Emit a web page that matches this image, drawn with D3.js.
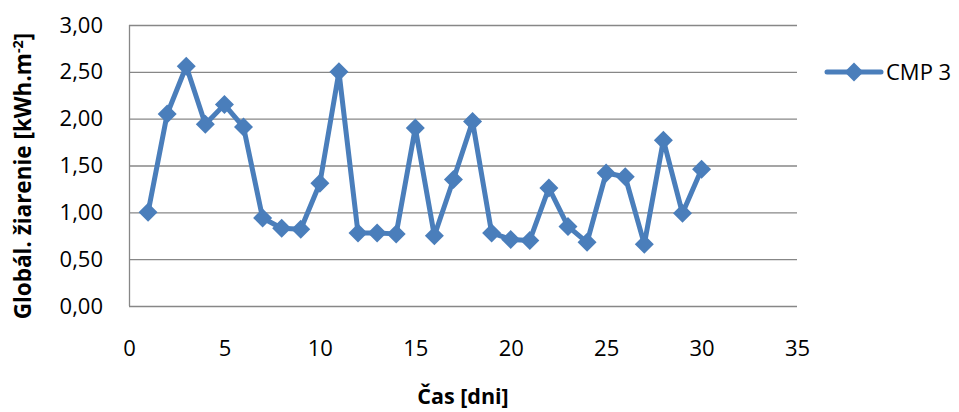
<!DOCTYPE html>
<html><head><meta charset="utf-8">
<script src="https://cdn.jsdelivr.net/npm/d3@7"></script>
<style>body{margin:0;background:#fff}svg{display:block}</style>
</head><body>
<script>
const days = [1,2,3,4,5,6,7,8,9,10,11,12,13,14,15,16,17,18,19,20,21,22,23,24,25,26,27,28,29,30];
const cmp3 = [1.00,2.05,2.56,1.94,2.15,1.91,0.94,0.83,0.82,1.31,2.50,0.78,0.78,0.77,1.90,0.75,1.35,1.97,0.78,0.71,0.70,1.26,0.85,0.68,1.42,1.38,0.66,1.77,0.99,1.46];
const xTicks = [0,5,10,15,20,25,30,35];
const yTicks = [0,0.5,1,1.5,2,2.5,3];
const seriesName = "CMP 3";
const xTitle = "Čas [dni]";

const W = 959, H = 412;
const m = {l:129, r:797, t:25, b:306};
const svg = d3.select("body").append("svg").attr("width",W).attr("height",H);
const x = d3.scaleLinear().domain([0,35]).range([m.l,m.r]);
const y = d3.scaleLinear().domain([0,3]).range([m.b,m.t]);
const font = "'Open Sans', 'Liberation Sans', Arial, sans-serif";
const blue = "#4a7ebb";

// gridlines
svg.append("g").selectAll("line").data(yTicks).join("line")
  .attr("x1",m.l).attr("x2",m.r).attr("y1",d=>y(d)+0.5).attr("y2",d=>y(d)+0.5)
  .attr("stroke","#878787").attr("stroke-width",1.3);
// left axis line
svg.append("line").attr("x1",m.l+0.5).attr("x2",m.l+0.5).attr("y1",m.t).attr("y2",m.b)
  .attr("stroke","#878787").attr("stroke-width",1.3);

// y tick labels
const yAxis = d3.axisLeft(y).tickValues(yTicks).tickSize(0).tickPadding(0)
  .tickFormat(d=>d3.format(".2f")(d).replace(".",","));
const gy = svg.append("g").attr("transform",`translate(${m.l-26},0)`).call(yAxis);
gy.select(".domain").remove();
gy.selectAll("text").attr("font-family",font).attr("font-size",22).attr("fill","#000");

// x tick labels
const xAxis = d3.axisBottom(x).tickValues(xTicks).tickSize(0).tickPadding(0);
const gx = svg.append("g").attr("transform",`translate(0,${m.b+34})`).call(xAxis);
gx.select(".domain").remove();
gx.selectAll("text").attr("font-family",font).attr("font-size",22).attr("fill","#000");

// line
const data = days.map((d,i)=>({d, v:cmp3[i]}));
svg.append("path").datum(data)
  .attr("d", d3.line().x(p=>x(p.d)).y(p=>y(p.v)))
  .attr("fill","none").attr("stroke",blue).attr("stroke-width",5).attr("stroke-linejoin","round");
const diamond = s => `M0,${-s}L${s},0L0,${s}L${-s},0Z`;
svg.append("g").selectAll("path").data(data).join("path")
  .attr("transform",p=>`translate(${x(p.d)},${y(p.v)})`)
  .attr("d",diamond(9.5)).attr("fill",blue);

// legend
const lg = svg.append("g").attr("transform","translate(827,72)");
lg.append("line").attr("x1",0).attr("x2",54).attr("y1",0).attr("y2",0)
  .attr("stroke",blue).attr("stroke-width",5).attr("stroke-linecap","round");
lg.append("path").attr("transform","translate(27,0)").attr("d",diamond(9.5)).attr("fill",blue);
lg.append("text").attr("x",59).attr("y",0).attr("dy","0.36em").attr("font-family",font)
  .attr("font-size",22).text(seriesName);

// axis titles
svg.append("text").attr("x",463).attr("y",404).attr("text-anchor","middle")
  .attr("font-family",font).attr("font-size",21.5).attr("font-weight","bold").text(xTitle);
const yt = svg.append("text").attr("transform","translate(31,176) rotate(-90)")
  .attr("text-anchor","middle").attr("font-family",font).attr("font-size",22.5).attr("font-weight","bold");
yt.append("tspan").text("Globál. žiarenie [kWh.m");
yt.append("tspan").attr("dy",-8).attr("font-size",14.5).text("-2");
yt.append("tspan").attr("dy",8).text("]");
</script>
</body></html>
